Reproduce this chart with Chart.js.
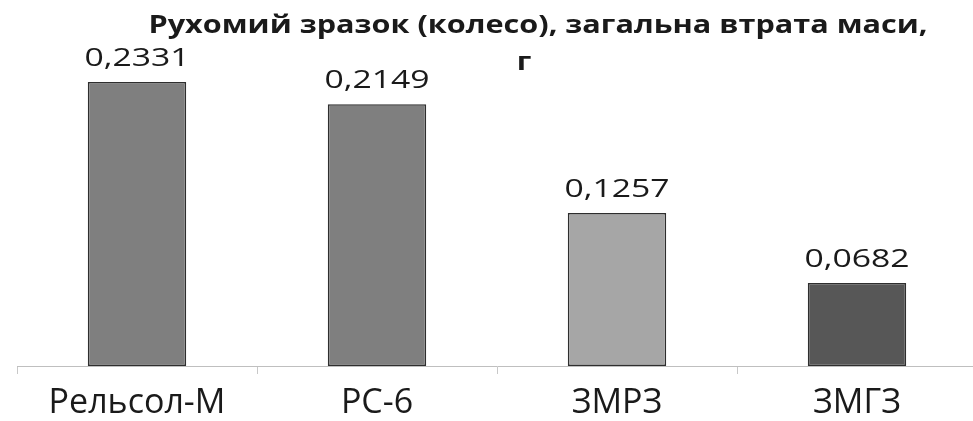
<!DOCTYPE html>
<html>
<head>
<meta charset="utf-8">
<script src="https://cdn.jsdelivr.net/npm/chart.js@4.4.1/dist/chart.umd.min.js"></script>
<style>
  html, body { margin: 0; padding: 0; background: #ffffff; overflow: hidden; }
  #wrap { width: 977px; height: 421px; position: relative; }
</style>
</head>
<body>
<div id="wrap"><canvas id="c"></canvas></div>
<script>
const categories = ["Рельсол-М", "РС-6", "ЗМРЗ", "ЗМГЗ"];
const massLoss = [0.2331, 0.2149, 0.1257, 0.0682];
const titleLines = ["Рухомий зразок (колесо), загальна втрата маси,", "г"];
const barColors = ["#7f7f7f", "#7f7f7f", "#a6a6a6", "#575757"];

const titlePlugin = {
  id: 'stretchedTitle',
  afterDraw(chart) {
    const ctx = chart.ctx;
    ctx.save();
    ctx.fillStyle = '#1a1a1a';
    ctx.font = 'bold 25px "Open Sans"';
    ctx.textAlign = 'center';
    ctx.textBaseline = 'alphabetic';
    const sx = 1.225;
    ctx.save();
    ctx.translate(538, 33);
    ctx.scale(sx, 1);
    ctx.fillText(titleLines[0], 0, 0);
    ctx.restore();
    ctx.save();
    ctx.translate(524, 70);
    ctx.scale(sx, 1);
    ctx.fillText(titleLines[1], 0, 0);
    ctx.restore();
    ctx.restore();
  }
};

const valueLabels = {
  id: 'valueLabels',
  afterDatasetsDraw(chart) {
    const ctx = chart.ctx;
    const meta = chart.getDatasetMeta(0);
    ctx.save();
    ctx.fillStyle = '#1a1a1a';
    ctx.font = '25px "Open Sans"';
    ctx.textAlign = 'center';
    ctx.textBaseline = 'alphabetic';
    meta.data.forEach((bar, i) => {
      const txt = massLoss[i].toFixed(4).replace('.', ',');
      ctx.save();
      ctx.translate(bar.x, bar.y - 16);
      ctx.scale(1.35, 1);
      ctx.fillText(txt, 0, 0);
      ctx.restore();
    });
    ctx.restore();
  }
};

new Chart(document.getElementById('c'), {
  type: 'bar',
  data: {
    labels: categories,
    datasets: [{
      data: massLoss,
      backgroundColor: barColors,
      borderColor: '#2e2e2e',
      borderWidth: 1.5,
      borderSkipped: false,
      barPercentage: 0.41,
      categoryPercentage: 1.0
    }]
  },
  options: {
    responsive: true,
    maintainAspectRatio: false,
    animation: false,
    layout: { padding: { top: 61.5, left: 17, right: 0, bottom: 0 } },
    plugins: {
      legend: { display: false },
      title: { display: false },
      tooltip: { enabled: false }
    },
    scales: {
      y: { display: false, min: 0, max: 0.25 },
      x: {
        afterFit(scale) { scale.height = 55; },
        border: { display: true, color: '#bfbfbf', width: 1 },
        grid: {
          display: true,
          drawOnChartArea: false,
          drawTicks: true,
          tickLength: 8,
          color: '#c8c8c8',
          offset: true
        },
        ticks: {
          color: '#1a1a1a',
          font: { family: '"Open Sans"', size: 34 },
          padding: 9
        }
      }
    }
  },
  plugins: [titlePlugin, valueLabels]
});
</script>
</body>
</html>
